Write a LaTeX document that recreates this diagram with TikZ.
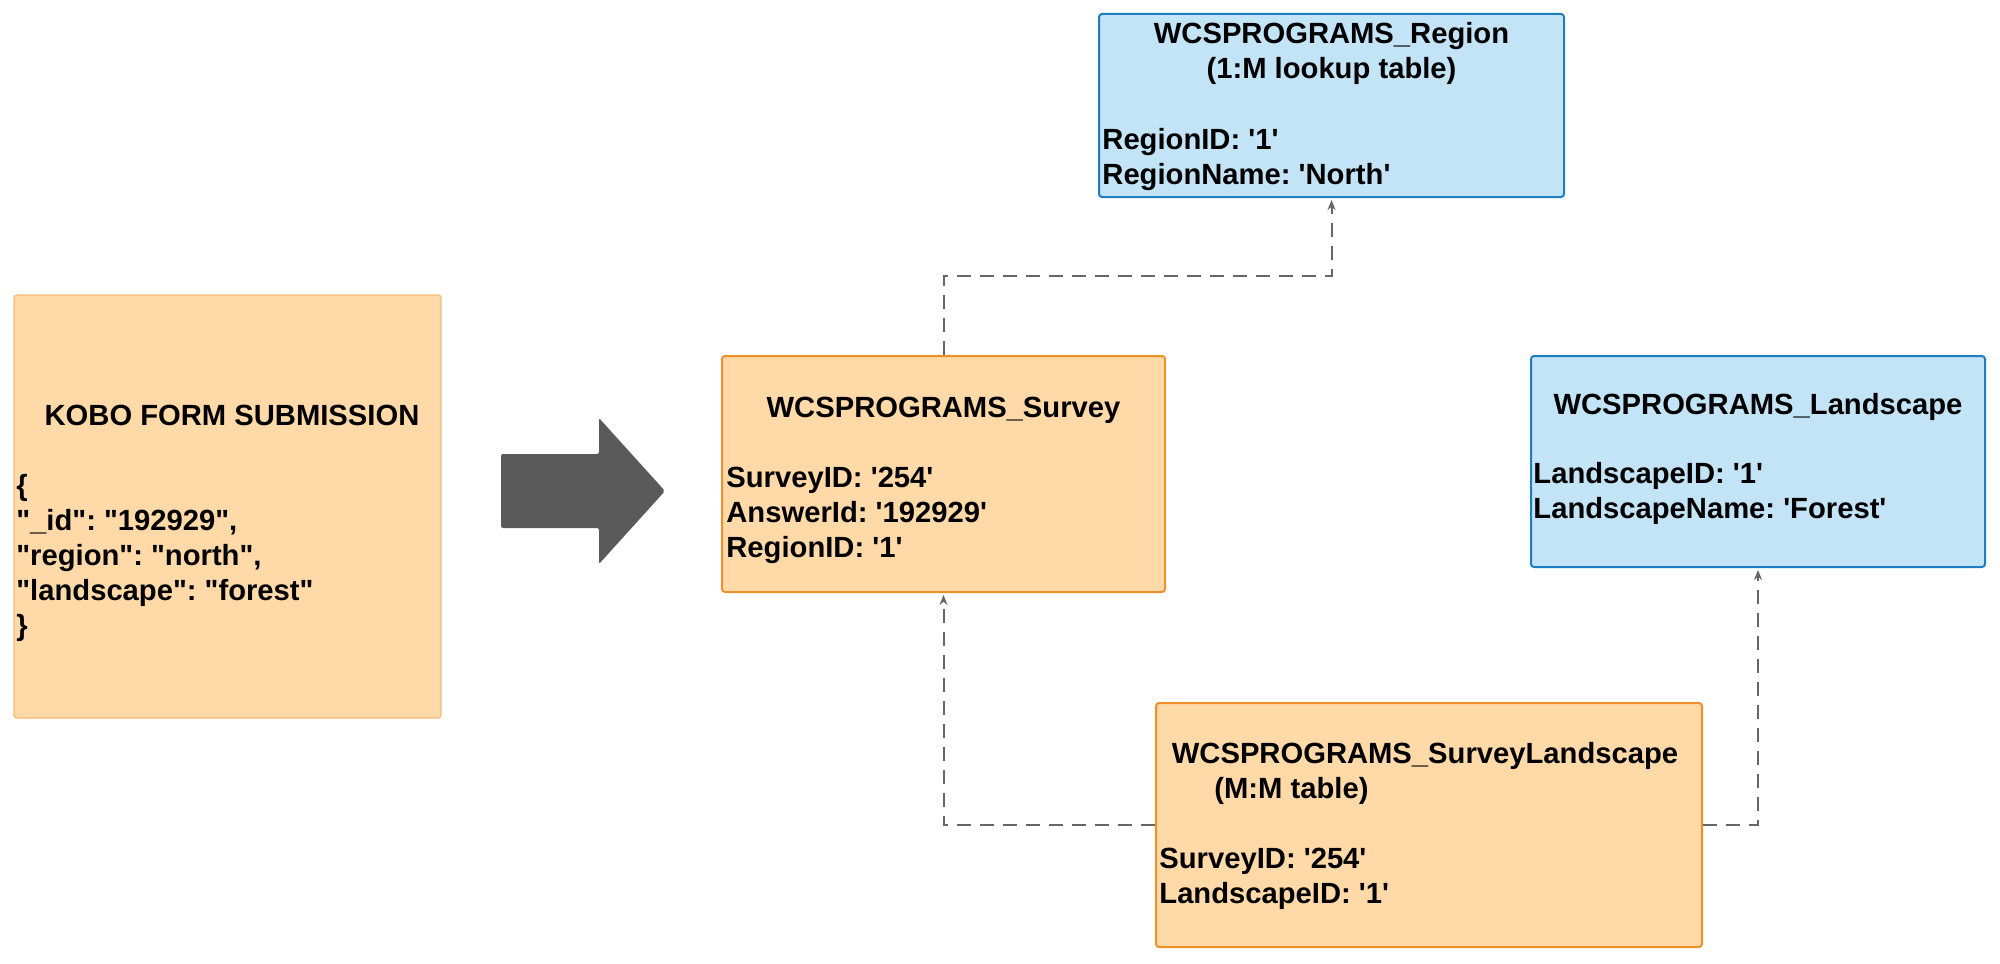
\documentclass[tikz,border=0pt]{standalone}
\usepackage{fontspec}
\setmainfont{Liberation Sans}[Ligatures=TeXOff]
\frenchspacing
\usetikzlibrary{arrows.meta}
\definecolor{orfill}{HTML}{FFDAA8}
\definecolor{ordraw}{HTML}{F0902A}
\definecolor{orlight}{HTML}{F7BA72}
\definecolor{blfill}{HTML}{C2E4F6}
\definecolor{bldraw}{HTML}{1F7DC1}
\definecolor{arrowgray}{HTML}{5A5A5A}
\definecolor{conngray}{HTML}{666666}
\tikzset{
  tablebox/.style={draw, line width=1pt, rounded corners=1.5pt, inner sep=0pt},
  orbox/.style={tablebox, fill=orfill, draw=ordraw},
  kobobox/.style={tablebox, fill=orfill, draw=orlight, line width=0.7pt},
  blbox/.style={tablebox, fill=blfill, draw=bldraw},
  txt/.style={inner sep=0pt, font=\fontsize{14.6}{17.5}\selectfont\bfseries\frenchspacing, text=black},
  ttl/.style={txt, anchor=base},
  fld/.style={txt, anchor=base west},
  conn/.style={draw=conngray, line width=1pt, dash pattern=on 7pt off 4.5pt,
    -{Stealth[length=5pt,width=4pt]}},
}
\begin{document}
\begin{tikzpicture}[x=0.5pt,y=-0.5pt]
\useasboundingbox (0,0) rectangle (2000,963);
% boxes
\node[kobobox, minimum width=213.5pt, minimum height=211.5pt] (kobo) at (227.5,506.5) {};
\node[orbox, minimum width=221.5pt, minimum height=118pt] (survey) at (943.5,474) {};
\node[blbox, minimum width=232.5pt, minimum height=91.5pt] (region) at (1331.5,105.5) {};
\node[blbox, minimum width=227pt, minimum height=105.5pt] (landscape) at (1758,461.5) {};
\node[orbox, minimum width=273pt, minimum height=122pt] (sl) at (1429,825) {};
% big arrow
\fill[arrowgray, rounded corners=1pt] (501,454) -- (599,454) -- (599,418) -- (665,491) -- (599,564) -- (599,528) -- (501,528) -- cycle;
% kobo text
\node[ttl] (koboT) at (232,425) {KOBO FORM SUBMISSION};
\node[fld] (kobo1) at (16,495) {\{};
\node[fld] (kobo2) at (16,530) {"\_id": "192929",};
\node[fld] (kobo3) at (16,565) {"region": "north",};
\node[fld] (kobo4) at (16,600) {"landscape": "forest"};
\node[fld] (kobo5) at (16,635) {\}};
% survey text
\node[ttl] (surveyT) at (943.5,417) {WCSPROGRAMS\_Survey};
\node[fld] (survey1) at (726,487) {SurveyID: '254'};
\node[fld] (survey2) at (726,522) {AnswerId: '192929'};
\node[fld] (survey3) at (726,557) {RegionID: '1'};
% region text
\node[ttl] (regionT1) at (1331.5,44) {WCSPROGRAMS\_Region};
\node[ttl] (regionT2) at (1331.5,79) {(1:M lookup table)};
\node[fld] (region1) at (1102,149) {RegionID: '1'};
\node[fld] (region2) at (1102,184) {RegionName: 'North'};
% landscape text
\node[ttl] (landT) at (1758,414) {WCSPROGRAMS\_Landscape};
\node[fld] (land1) at (1533,483) {LandscapeID: '1'};
\node[fld] (land2) at (1533,518) {LandscapeName: 'Forest'};
% survey landscape text
\node[ttl] (slT1) at (1425,763) {WCSPROGRAMS\_SurveyLandscape};
\node[fld] (slT2) at (1214,798) {(M:M table)};
\node[fld] (sl1) at (1159,868) {SurveyID: '254'};
\node[fld] (sl2) at (1159,903) {LandscapeID: '1'};
% connectors
\coordinate (bend1) at (943.5,276);
\draw[conn] (survey.north) -- (bend1) -| ([yshift=-1pt]region.south);
\draw[conn] (sl.west) -| ([yshift=-1pt]survey.south);
\draw[conn] (sl.east) -| ([yshift=-1pt]landscape.south);
\end{tikzpicture}
\end{document}
